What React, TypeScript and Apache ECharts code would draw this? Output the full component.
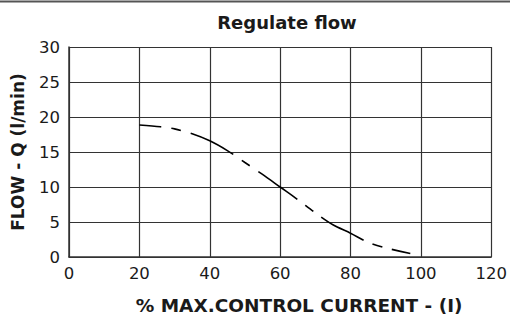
import React, { useEffect, useRef } from "react";
import * as echarts from "echarts";

const currentPct = [20, 26, 30, 35, 40, 45, 50, 55, 60, 65, 70, 75, 80, 85, 90, 97];
const flowQ = [18.85, 18.6, 18.3, 17.6, 16.6, 15.2, 13.5, 11.8, 10, 8.2, 6.3, 4.6, 3.4, 2.1, 1.3, 0.5];

const titleText = "Regulate flow";
const xName = "% MAX.CONTROL CURRENT - (I)";
const yName = "FLOW - Q (l/min)";

const FONT = "DejaVu Sans";

export default function App() {
  const ref = useRef<HTMLDivElement>(null);
  useEffect(() => {
    if (!ref.current) return;
    const chart = echarts.init(ref.current, null, { renderer: "svg" });
    const data = currentPct.map((x, i) => [x, flowQ[i]]);
    chart.setOption({
      animation: false,
      backgroundColor: "#ffffff",
      title: {
        text: titleText,
        left: 282,
        top: 8,
        textAlign: "center",
        textStyle: { fontFamily: FONT, fontWeight: "bold", fontSize: 18, color: "#1a1a1a" },
      },
      graphic: [
        {
          type: "line",
          shape: { x1: 0, y1: 1.5, x2: 510, y2: 1.5 },
          style: { stroke: "#555", lineWidth: 2 },
        },
      ],
      grid: { left: 69, right: 14, top: 47, bottom: 66, containLabel: false },
      xAxis: {
        type: "value",
        min: 0,
        max: 120,
        interval: 20,
        name: xName,
        nameLocation: "middle",
        nameGap: 39,
        nameTextStyle: {
          fontFamily: FONT,
          fontWeight: "bold",
          fontSize: 18.5,
          color: "#1a1a1a",
          padding: [0, 0, 0, 38],
        },
        axisLine: { show: true, lineStyle: { color: "#333", width: 1.5 } },
        axisTick: { show: false },
        axisLabel: { margin: 8, fontFamily: FONT, fontSize: 16.5, color: "#1a1a1a" },
        splitLine: { show: true, lineStyle: { color: "#333", width: 1.2 } },
      },
      yAxis: {
        type: "value",
        min: 0,
        max: 30,
        interval: 5,
        name: yName,
        nameLocation: "middle",
        nameGap: 43,
        nameTextStyle: { fontFamily: FONT, fontWeight: "bold", fontSize: 17, color: "#1a1a1a" },
        axisLine: { show: true, lineStyle: { color: "#333", width: 1.5 } },
        axisTick: { show: false },
        axisLabel: { margin: 9, fontFamily: FONT, fontSize: 16.5, color: "#1a1a1a" },
        splitLine: { show: true, lineStyle: { color: "#333", width: 1.2 } },
      },
      series: [
        {
          type: "line",
          data,
          smooth: 0.3,
          showSymbol: false,
          lineStyle: { color: "#000", width: 1.6, type: [48, 10, 10, 10], dashOffset: 26 },
        },
      ],
    });
    return () => chart.dispose();
  }, []);
  return (
    <div
      ref={ref}
      style={{ position: "absolute", left: 0, top: 0, width: 510, height: 323, background: "#fff" }}
    />
  );
}
